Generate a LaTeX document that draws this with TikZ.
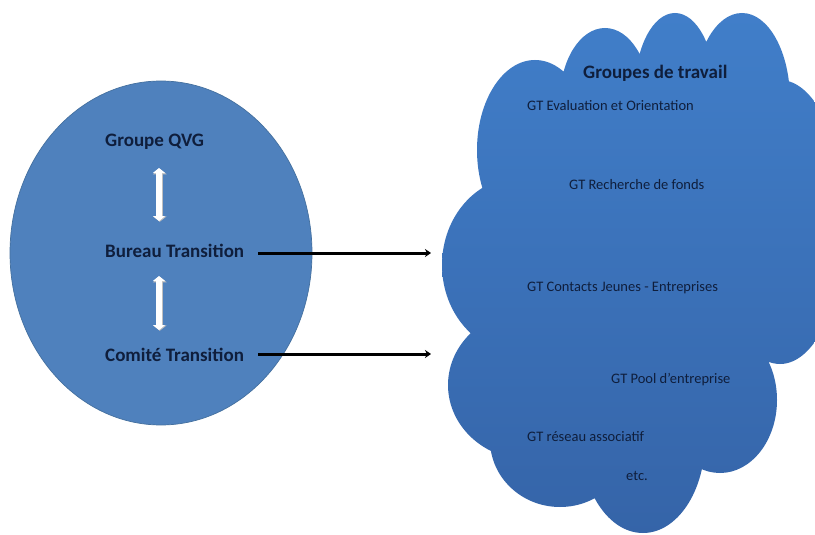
\documentclass[tikz,border=0pt]{standalone}
\usepackage{fontspec}
\setmainfont{Carlito}
\usetikzlibrary{arrows.meta}
\definecolor{ellfill}{HTML}{4F81BD}
\definecolor{elldraw}{HTML}{44709F}
\definecolor{cloudtop}{HTML}{417FCA}
\definecolor{cloudbot}{HTML}{3564A8}
\definecolor{navy}{HTML}{0F1E3C}
\tikzset{
  boldlabel/.style={font=\fontsize{19}{21}\selectfont\bfseries, text=navy, inner sep=0pt, anchor=west},
  gtlabel/.style={font=\fontsize{14.5}{16}\selectfont, text=navy, inner sep=0pt, anchor=west},
  linkarrow/.style={line width=3pt, -{Stealth[length=6pt,width=8pt]}},
  whitearrow/.style={line width=6pt, white, {Triangle[width=12pt,length=5pt]}-{Triangle[width=12pt,length=5pt]}},
  arrowshadow/.style={line width=7pt, black!25, {Triangle[width=13.5pt,length=5.5pt]}-{Triangle[width=13.5pt,length=5.5pt]}}
}
\begin{document}
\begin{tikzpicture}[x=1pt,y=-1pt]
\useasboundingbox (0,0) rectangle (815,535);
\fill[white] (0,0) rectangle (815,535);

% left ellipse
\fill[ellfill, draw=elldraw, line width=0.7pt] (161,253) ellipse (151 and 172);

% cloud
\begin{scope}
\clip (535,150) ellipse (58 and 90)
      (605,100) ellipse (45 and 72)
      (675,90) ellipse (40 and 77)
      (742,100) ellipse (48 and 87)
      (780,222) ellipse (65 and 142)
      (520,265) ellipse (78 and 88)
      (530,385) ellipse (82 and 75)
      (560,440) ellipse (70 and 67)
      (643,440) ellipse (62 and 93)
      (720,400) ellipse (57 and 73)
      (630,270) ellipse (130 and 160);
\shade[top color=cloudtop, bottom color=cloudbot] (430,0) rectangle (815,535);
\end{scope}

% left texts
\node[boldlabel] (qvg) at (105,142) {Groupe QVG};
\node[boldlabel] (bt) at (105,251) {Bureau Transition};
\node[boldlabel] (ct) at (105,355) {Comité Transition};

% white double arrows
\coordinate (a1t) at (159,168);
\coordinate (a1b) at (159,221);
\coordinate (a2t) at (159,276);
\coordinate (a2b) at (159,330);
\draw[arrowshadow] ([shift={(0.8,0.8)}]a1t) -- ([shift={(0.8,0.8)}]a1b);
\draw[arrowshadow] ([shift={(0.8,0.8)}]a2t) -- ([shift={(0.8,0.8)}]a2b);
\draw[whitearrow] (a1t) -- (a1b);
\draw[whitearrow] (a2t) -- (a2b);

% cloud texts
\node[boldlabel] (gdt) at (583,73) {Groupes de travail};
\node[gtlabel] (g1) at (527,106) {GT Evaluation et Orientation};
\node[gtlabel] (g2) at (569,185) {GT Recherche de fonds};
\node[gtlabel] (g3) at (527,288) {GT Contacts Jeunes - Entreprises};
\node[gtlabel] (g4) at (611,380) {GT Pool d’entreprise};
\node[gtlabel] (g5) at (527,437) {GT réseau associatif};
\node[gtlabel] (g6) at (626,476) {etc.};

% black arrows
\coordinate (e1) at (431,253);
\coordinate (e2) at (431,354);
\draw[linkarrow] ([xshift=14pt]bt.east |- e1) -- (e1);
\draw[linkarrow] ([xshift=14pt]ct.east |- e2) -- (e2);
\end{tikzpicture}
\end{document}
